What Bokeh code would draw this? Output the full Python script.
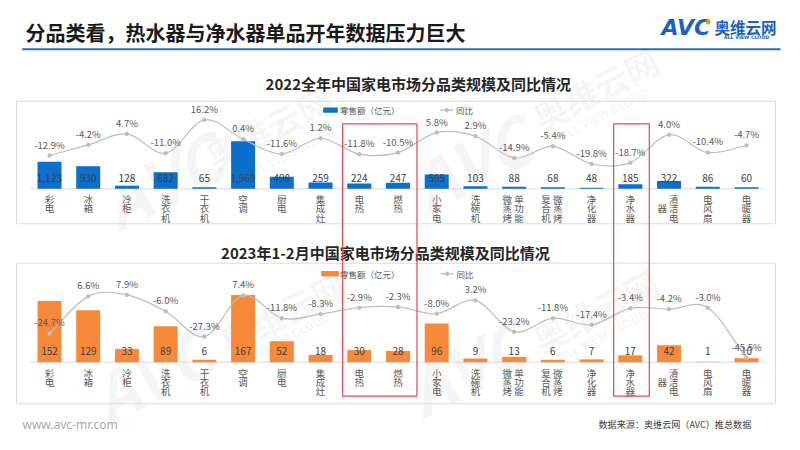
import numpy as np
from bokeh.plotting import figure
from bokeh.models import Range1d, FactorRange, ColumnDataSource, LinearScale
from bokeh.transform import dodge
from bokeh.core.properties import value
from bokeh.embed import file_html
from bokeh.resources import INLINE

# ---------------- data ----------------
categories = ["彩电", "冰箱", "冷柜", "洗衣机", "干衣机", "空调", "厨电", "集成灶", "电热", "燃热",
              "小家电", "洗碗机", "单功能微蒸烤", "微蒸烤复合机", "净化器", "净水器", "清洁电器", "电风扇", "电暖器"]
sales_2022 = [1123, 930, 128, 682, 65, 1969, 498, 259, 224, 247, 595, 103, 88, 68, 48, 185, 322, 86, 60]
yoy_2022 = [-12.9, -4.2, 4.7, -11.0, 16.2, 0.4, -11.6, 1.2, -11.8, -10.5, 5.8, 2.9, -14.9, -5.4, -19.8, -18.7, 4.0, -10.4, -4.7]
sales_2023 = [152, 129, 33, 89, 6, 167, 52, 18, 30, 28, 96, 9, 13, 6, 7, 17, 42, 1, 10]
yoy_2023 = [-24.7, 6.6, 7.9, -6.0, -27.3, 7.4, -11.8, -8.3, -2.9, -2.3, -8.0, 3.2, -23.2, -11.8, -17.4, -3.4, -4.2, -3.0, -45.5]
highlight_first = ["电热", "净水器"]
highlight_last = ["燃热", "净水器"]

main_title = "分品类看，热水器与净水器单品开年数据压力巨大"
title_2022 = "2022全年中国家电市场分品类规模及同比情况"
title_2023 = "2023年1-2月中国家电市场分品类规模及同比情况"
legend_bar = "零售额（亿元）"
legend_line = "同比"
source_note = "数据来源：奥维云网（AVC）推总数据"
site = "www.avc-mr.com"

# ---------------- style / layout ----------------
W, H = 795, 450
CJK = "Noto Sans CJK SC"
BLUE = "#0B6FCB"
ORANGE = "#F6893A"
LINE_GREY = "#BDBDBD"
BOX_GREY = "#DADADA"
TXT = "#404040"
TXT2 = "#595959"
RED = "#E5484D"
LOGO_BLUE = "#1C5FBF"

PAD = 0.7655  # padding (in category widths) on each side of the factor range
x_range = FactorRange(*categories, range_padding=PAD, range_padding_units="absolute")
SPAN = len(categories) + 2 * PAD


def sx(px):
    """page pixel x -> synthetic coordinate of the categorical x range"""
    return px * SPAN / W - PAD


panels = [
    dict(name="p22", sales=sales_2022, yoy=yoy_2022, color=BLUE, fmt=lambda v: f"{v:,}",
         base=188.3, unit_px=47.6 / 1969, zero=139.2, pct_px=1.227,
         box=(16, 775, 100.7, 223.3), title=title_2022, title_xy=(417.8, 83.3),
         leg_y=109.6, leg_rect=(322.7, 337.3, 107.0, 112.2), leg_text_x=339.5,
         leg_line=(439.3, 453.3), leg_line_text_x=455.5, lab_first=10.0, lab_lh=9.6),
    dict(name="p23", sales=sales_2023, yoy=yoy_2023, color=ORANGE, fmt=lambda v: f"{v}",
         base=361.7, unit_px=67.3 / 167, zero=303.7, pct_px=1.185,
         box=(16, 775, 262.7, 403.3), title=title_2023, title_xy=(384.9, 251.7),
         leg_y=273.3, leg_rect=(320.7, 338.3, 270.5, 276.0), leg_text_x=339.5,
         leg_line=(440.0, 453.5), leg_line_text_x=456.0, lab_first=11.0, lab_lh=9.1),
]

extra_y = {}
extra_y_scales = {}
for pn in panels:
    extra_y[pn["name"] + "_bar"] = Range1d(start=(pn["base"] - H) / pn["unit_px"], end=pn["base"] / pn["unit_px"])
    extra_y[pn["name"] + "_line"] = Range1d(start=(pn["zero"] - H) / pn["pct_px"], end=pn["zero"] / pn["pct_px"])
    extra_y_scales[pn["name"] + "_bar"] = LinearScale()
    extra_y_scales[pn["name"] + "_line"] = LinearScale()

p = figure(width=W, height=H, x_range=x_range, y_range=Range1d(H, 0),
           output_backend="svg", toolbar_location=None,
           x_axis_location=None, y_axis_location=None, title=None,
           min_border=0, min_border_left=0, min_border_right=0, min_border_top=0, min_border_bottom=0,
           outline_line_color=None, background_fill_color="white", border_fill_color="white")
p.extra_y_ranges = extra_y
p.extra_y_scales = extra_y_scales
p.xgrid.grid_line_color = None
p.ygrid.grid_line_color = None


def ptext(x, y, s, size, color=TXT, align="left", baseline="middle", style="normal",
          font=CJK, angle=0.0, alpha=1.0):
    p.text(x=[sx(x)], y=[y], text=[s], text_font=value(font),
           text_font_size=f"{size}px", text_color=color, text_align=align,
           text_baseline=baseline, text_font_style=style, angle=angle, text_alpha=alpha)


# ---------------- watermark ----------------
wm_angle = np.radians(27)
for ax, ay, bx, by, cx, cy in [(160, 178, 268, 127, 290, 152),
                               (470, 160, 595, 88, 603, 113),
                               (150, 372, 282, 312, 284, 337),
                               (465, 365, 595, 310, 602, 334)]:
    ptext(ax, ay, "AVC", 66, color="#9A9A9A", align="center", style="bold italic", angle=wm_angle, alpha=0.10)
    ptext(bx, by, "奥维云网", 34, color="#9A9A9A", align="center", style="bold", angle=wm_angle, alpha=0.10)
    ptext(cx, cy, "ALL VIEW CLOUD", 12, color="#9A9A9A", align="center", style="bold", angle=wm_angle, alpha=0.10)

# ---------------- header ----------------
ptext(25, 31.7, main_title, 20, color="#1A1A1A", style="bold")
p.segment(x0=[sx(21.7)], x1=[sx(780)], y0=[48.8], y1=[48.8], line_color="#2E6DB4", line_width=2)
ptext(661, 26.5, "AVC", 22, color=LOGO_BLUE, style="bold italic", font="DejaVu Sans")
p.scatter(x=[sx(707.5)], y=[21.5], size=4, color="#F39800")
ptext(714, 26, "奥维云网", 15.5, color=LOGO_BLUE, style="bold")
ptext(746, 36.5, "ALL VIEW CLOUD", 4.8, color=LOGO_BLUE, align="center", style="bold", font="DejaVu Sans")

# ---------------- footer ----------------
ptext(22, 424, site, 12, color="#A8A8A8", font="Noto Sans")
ptext(598, 423.5, source_note, 9.1, color=TXT)

# ---------------- panels ----------------
def stacked(name, per_col=3):
    if len(name) <= per_col:
        return list(name)
    cols = [name[i:i + per_col] for i in range(0, len(name), per_col)][::-1]
    n = max(len(c) for c in cols)
    padded = []
    for c in cols:
        top = (n - len(c)) // 2
        padded.append("\u3000" * top + c + "\u3000" * (n - len(c) - top))
    return ["  ".join(col[r] for col in padded) for r in range(n)]


for pn in panels:
    bar_r = pn["name"] + "_bar"
    line_r = pn["name"] + "_line"
    l, r, t, b = pn["box"]
    p.quad(left=[sx(l)], right=[sx(r)], top=[t], bottom=[b],
           fill_color=None, line_color=BOX_GREY, line_width=1)
    ptext(pn["title_xy"][0], pn["title_xy"][1], pn["title"], 15, color="#262626", align="center", style="bold")

    # baseline
    base_src = ColumnDataSource(dict(a=[categories[0]], z=[categories[-1]], y=[0]))
    p.segment(x0=dodge("a", -0.5, range=x_range), x1=dodge("z", 0.5, range=x_range), y0="y", y1="y",
              source=base_src, y_range_name=bar_r, line_color=BOX_GREY, line_width=1)

    # bars
    src = ColumnDataSource(dict(cat=categories, sales=pn["sales"], yoy=pn["yoy"],
                                zero=[0] * len(categories),
                                slab=[pn["fmt"](v) for v in pn["sales"]],
                                plab=[f"{v:.1f}%" for v in pn["yoy"]]))
    p.vbar(x="cat", top="sales", bottom=0, width=0.62, source=src, y_range_name=bar_r,
           fill_color=pn["color"], line_color=None)
    p.text(x="cat", y="zero", text="slab", source=src, y_range_name=bar_r,
           text_align="center", text_baseline="middle", y_offset=-11,
           text_font=value(CJK), text_font_size="10px", text_color=TXT)

    # smooth YoY line (cubic Bezier through the points)
    v = np.array(pn["yoy"], dtype=float)
    ext = np.concatenate([[2 * v[0] - v[1]], v, [2 * v[-1] - v[-2]]])
    i = np.arange(len(v) - 1)
    bez = ColumnDataSource(dict(x0=categories[:-1], x1=categories[1:],
                                y0=v[:-1], y1=v[1:],
                                cy0=ext[i + 1] + (ext[i + 2] - ext[i]) / 6,
                                cy1=ext[i + 2] - (ext[i + 3] - ext[i + 1]) / 6))
    p.bezier(x0="x0", y0="y0", x1="x1", y1="y1",
             cx0=dodge("x0", 1 / 3, range=x_range), cy0="cy0",
             cx1=dodge("x1", -1 / 3, range=x_range), cy1="cy1",
             source=bez, y_range_name=line_r, line_color=LINE_GREY, line_width=1.2)
    p.scatter(x="cat", y="yoy", source=src, y_range_name=line_r, size=3.5,
              fill_color=LINE_GREY, line_color=LINE_GREY)
    p.text(x="cat", y="yoy", text="plab", source=src, y_range_name=line_r,
           text_align="center", text_baseline="middle", y_offset=-11,
           text_font=value(CJK), text_font_size="9.5px", text_color=TXT2)

    # stacked category labels
    rx, rt, ro, rz = [], [], [], []
    for c in categories:
        for k, line in enumerate(stacked(c)):
            rx.append(c); rt.append(line); ro.append(pn["lab_first"] + k * pn["lab_lh"]); rz.append(0)
    lab = ColumnDataSource(dict(x=rx, y=rz, t=rt, off=ro))
    p.text(x="x", y="y", text="t", y_offset="off", source=lab, y_range_name=bar_r,
           text_align="center", text_baseline="middle",
           text_font=value(CJK), text_font_size="9.5px", text_color=TXT2)

    # legend
    x0, x1, y0, y1 = pn["leg_rect"]
    p.quad(left=[sx(x0)], right=[sx(x1)], top=[y0], bottom=[y1],
           fill_color=pn["color"], line_color=None)
    ptext(pn["leg_text_x"], pn["leg_y"], legend_bar, 8.5, color=TXT2)
    lx0, lx1 = pn["leg_line"]
    p.segment(x0=[sx(lx0)], x1=[sx(lx1)], y0=[pn["leg_y"]], y1=[pn["leg_y"]],
              line_color=LINE_GREY, line_width=1.2)
    p.scatter(x=[sx((lx0 + lx1) / 2)], y=[pn["leg_y"]], size=3.5, color=LINE_GREY)
    ptext(pn["leg_line_text_x"], pn["leg_y"], legend_line, 8.5, color=TXT2)

# ---------------- highlight boxes ----------------
hl = ColumnDataSource(dict(a=highlight_first, z=highlight_last, t=[123.3] * 2, b=[395.7] * 2))
p.quad(left=dodge("a", -0.43, range=x_range), right=dodge("z", 0.49, range=x_range),
       top="t", bottom="b", source=hl, fill_color=None, line_color=RED, line_width=1.2)

open("out.html", "w").write(file_html(p, INLINE))
